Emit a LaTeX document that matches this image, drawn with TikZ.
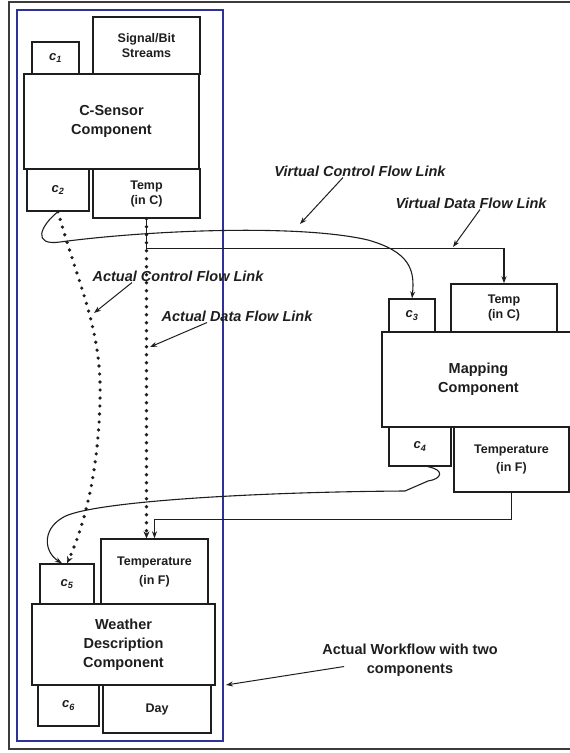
\documentclass[tikz,border=0pt]{standalone}
\usepackage{fontspec}
\setmainfont{Liberation Sans}
\usetikzlibrary{arrows.meta,calc,positioning}
\definecolor{ink}{HTML}{1E1E1E}
\definecolor{frame}{HTML}{3C3C3C}
\definecolor{navy}{HTML}{30309A}

\tikzset{
  comp/.style={draw=ink,line width=1.4pt,fill=white,align=center,inner sep=0pt,text=ink,
    font=\bfseries\fontsize{14.5}{19}\selectfont},
  port/.style={draw=ink,line width=1.4pt,fill=white,align=center,inner sep=0pt,text=ink,
    font=\bfseries\fontsize{12.5}{15}\selectfont},
  ctl/.style={port,font=\bfseries\itshape\fontsize{13}{15}\selectfont},
  link/.style={draw=ink,line width=1.1pt,-{Stealth[length=7pt,width=5pt]}},
  actual/.style={draw=ink,line width=3.6pt,line cap=round,dash pattern=on 0pt off 8pt,
    -{Stealth[length=7pt,width=6pt,line width=0.4pt]}},
  tag/.style={font=\bfseries\itshape\fontsize{14.5}{19}\selectfont,text=ink,inner sep=1pt},
  pointer/.style={draw=ink,line width=1pt,-{Stealth[length=7pt,width=5pt]}},
}

\begin{document}
\begin{tikzpicture}[x=1pt,y=-1pt]
  \clip (0,0) rectangle (570,753);
  \draw[frame,line width=2pt] (9,1.5) rectangle (590,749);
  \draw[navy,line width=1.2pt] (17,10) rectangle (223,741);

  % C-Sensor component
  \node[ctl,minimum width=47pt,minimum height=32pt] (c1) at (55.5,58) {c\textsubscript{1}};
  \node[port,minimum width=107pt,minimum height=57pt] (sig) at (146.5,45.5) {Signal/Bit\\Streams};
  \node[comp,minimum width=175pt,minimum height=95pt] (sensor) at (111.5,121.5) {C-Sensor\\Component};
  \node[ctl,minimum width=62pt,minimum height=42pt] (c2) at (58,190) {c\textsubscript{2}};
  \node[port,minimum width=107pt,minimum height=49pt] (tempC) at (146.5,193.5) {Temp\\(in C)};

  % Mapping component
  \node[ctl,minimum width=46pt,minimum height=33pt] (c3) at (412,315.5) {c\textsubscript{3}};
  \node[port,minimum width=106pt,minimum height=48pt] (tempCm) at (504,308) {Temp\\(in C)};
  \node[comp,minimum width=193pt,minimum height=95pt] (mapping) at (478.5,379.5) {Mapping\\Component};
  \node[ctl,minimum width=62pt,minimum height=39pt] (c4) at (420,446.5) {c\textsubscript{4}};
  \node[port,minimum width=115pt,minimum height=65pt] (tempF) at (511.5,459.5) {Temperature\\[3pt](in F)};

  % Weather description component
  \node[port,minimum width=107pt,minimum height=65pt] (tempFw) at (154.5,571.5) {Temperature\\[4pt](in F)};
  \node[ctl,minimum width=54pt,minimum height=40pt] (c5) at (67,584) {c\textsubscript{5}};
  \node[comp,minimum width=183pt,minimum height=81pt] (weather) at (123.5,644.5) {Weather\\Description\\Component};
  \node[ctl,minimum width=61pt,minimum height=41pt] (c6) at (68.5,705.5) {c\textsubscript{6}};
  \node[port,minimum width=108pt,minimum height=48pt] (day) at (157,709) {Day};

  % actual links
  \draw[actual] (c2.south) .. controls (80,290) and (102,330) .. (100,400)
    .. controls (98,480) and (82,530) .. (c5.north);
  \draw[actual] (tempC.south) -- (tempC.south |- tempFw.north);

  % virtual links
  \draw[link] (c2.south) .. controls (40,226) and (32,246) .. (60,242)
    .. controls (150,230) and (300,224) .. (368,240)
    .. controls (410,252) and (415,270) .. (c3.north);
  \draw[link] (tempC.south) -- ++(0,30) -| (tempCm.north);
  \draw[link] ([xshift=8pt]c4.south) .. controls (445,470) and (442,479) .. (428,481) -- (405,491)
    .. controls (250,492) and (85,502) .. (62,518)
    .. controls (42,530) and (44,552) .. ([xshift=-5pt]c5.north);
  \draw[link] (tempF.south) -- ++(0,27) -| (tempFw.north);

  % labels
  \node[tag] (vcf) at (360,171) {Virtual Control Flow Link};
  \node[tag] (vdf) at (471,203) {Virtual Data Flow Link};
  \node[tag] (acf) at (178,276) {Actual Control Flow Link};
  \node[tag] (adf) at (237,316) {Actual Data Flow Link};
  \node[tag,font=\bfseries\fontsize{14.5}{19}\selectfont,align=center] (awf) at (410,660.5)
    {Actual Workflow with two\\components};

  \coordinate (vcfTip) at (300,224);
  \coordinate (vdfTip) at (453,247);
  \coordinate (acfTip) at (94,313);
  \coordinate (adfTip) at (150,347);
  \coordinate (awfTip) at (226,685);
  \draw[pointer] ([xshift=-17pt]vcf.south) -- (vcfTip);
  \draw[pointer] ([xshift=9pt]vdf.south) -- (vdfTip);
  \draw[pointer] ([xshift=-46pt]acf.south) -- (acfTip);
  \draw[pointer] ([xshift=-30pt]adf.south) -- (adfTip);
  \draw[pointer] ($(awf.west)+(23,6)$) -- (awfTip);
\end{tikzpicture}
\end{document}
